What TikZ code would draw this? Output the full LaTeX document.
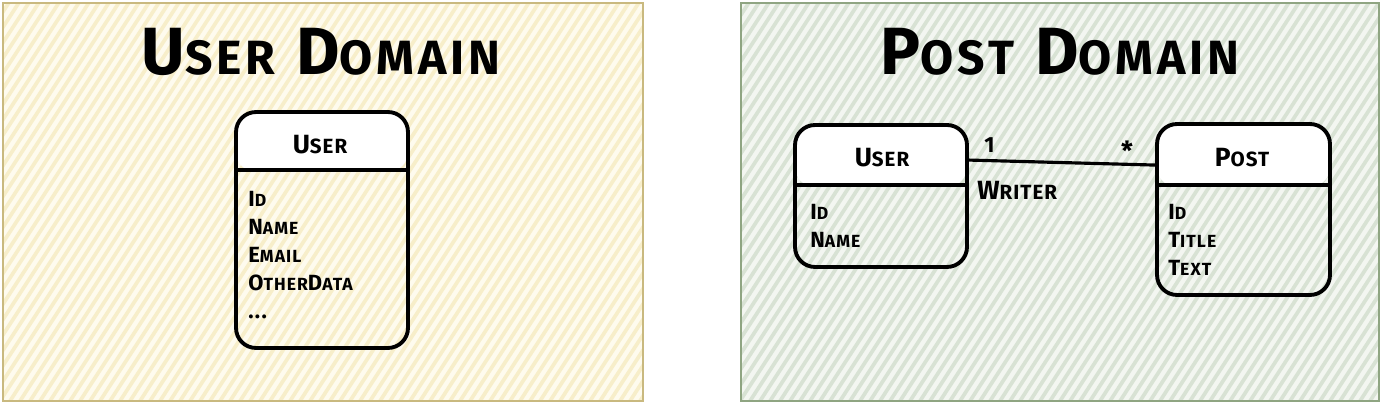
\documentclass[tikz,border=0pt]{standalone}
\usepackage{fontspec}
\setmainfont{Fira Sans}
\usepackage{graphicx}
\def\skr{0.74}
\newcommand\Sk[2]{#1\scalebox{\skr}{#2}}
\definecolor{ybg}{HTML}{FEFBEE}
\definecolor{yhatch}{HTML}{F7EECA}
\definecolor{yborder}{HTML}{C9B97F}
\definecolor{gbg}{HTML}{F3F6F1}
\definecolor{ghatch}{HTML}{D8E2D4}
\definecolor{gborder}{HTML}{8FA582}
\tikzset{
  tbl/.style={draw=black, line width=2.2pt, rounded corners=0.4cm, inner sep=0pt,
    path picture={\fill[white] (path picture bounding box.north west) rectangle ([yshift=-#1]path picture bounding box.north east);}},
  divline/.style={draw=black, line width=2.2pt},
  conn/.style={draw=black, line width=1.8pt},
  hdr/.style={font=\fontsize{15}{17}\selectfont\bfseries\addfontfeatures{LetterSpace=5}\def\skr{0.78}, inner sep=0pt},
  attr/.style={font=\fontsize{12.5}{14}\selectfont\bfseries\addfontfeatures{LetterSpace=6}\def\skr{0.8}, inner sep=0pt, anchor=base west},
  ttl/.style={font=\fontsize{38}{41}\selectfont\bfseries\addfontfeatures{LetterSpace=8}\def\skr{0.72}, inner sep=0pt},
  hatchline/.style={line width=2.1pt}
}
\begin{document}
\begin{tikzpicture}[x=0.02cm,y=-0.02cm]
\useasboundingbox (0,0) rectangle (1382,404);
% left panel
\fill[ybg] (3,3) rectangle (643,401);
\begin{scope}
  \clip (3,3) rectangle (643,401);
  \foreach \i in {-270,-260,...,650} \draw[hatchline, yhatch] (\i,401) -- ++(260,-400);
\end{scope}
\draw[yborder, line width=1.6pt] (3,3) rectangle (643,401);
% right panel
\fill[gbg] (741,3) rectangle (1379,401);
\begin{scope}
  \clip (741,3) rectangle (1379,401);
  \foreach \i in {470,480,...,1390} \draw[hatchline, ghatch] (\i,401) -- ++(260,-400);
\end{scope}
\draw[gborder, line width=1.6pt] (741,3) rectangle (1379,401);

% titles
\node[ttl] (t1) at (321,52) {\Sk{U}{SER} \Sk{D}{OMAIN}};
\node[ttl] (t2) at (1060,52) {\Sk{P}{OST} \Sk{D}{OMAIN}};

% left User table
\node[tbl=1.2cm, minimum width=3.44cm, minimum height=4.72cm] (utab) at (322,230) {};
\draw[divline] ([yshift=-1.2cm]utab.north west) -- ([yshift=-1.2cm]utab.north east);
\node[hdr] (uhdr) at (320,145) {\Sk{U}{SER}};
\node[attr] (ua1) at (248,207) {\Sk{I}{D}};
\node[attr] (ua2) at (248,235) {\Sk{N}{AME}};
\node[attr] (ua3) at (248,263) {\Sk{E}{MAIL}};
\node[attr] (ua4) at (248,291) {\Sk{O}{THER}\Sk{D}{ATA}};
\node[attr] (ua5) at (248,319) {...};

% right User table
\node[tbl=1.24cm, minimum width=3.44cm, minimum height=2.84cm] (pu) at (881,196) {};
\draw[divline] ([yshift=-1.24cm]pu.north west) -- ([yshift=-1.24cm]pu.north east);
\node[hdr] (puhdr) at (882,158) {\Sk{U}{SER}};
\node[attr] (pua1) at (810,220) {\Sk{I}{D}};
\node[attr] (pua2) at (810,248) {\Sk{N}{AME}};

% Post table
\node[tbl=1.26cm, minimum width=3.46cm, minimum height=3.42cm] (po) at (1243.5,209.5) {};
\draw[divline] ([yshift=-1.26cm]po.north west) -- ([yshift=-1.26cm]po.north east);
\node[hdr] (pohdr) at (1242,158) {\Sk{P}{OST}};
\node[attr] (poa1) at (1168,220) {\Sk{I}{D}};
\node[attr] (poa2) at (1168,248) {\Sk{T}{ITLE}};
\node[attr] (poa3) at (1168,276) {\Sk{T}{EXT}};

% association
\draw[conn] ([yshift=-0.74cm]pu.north east) -- ([yshift=-0.86cm]po.north west);
\node[attr] (m1) at (984,153) {1};
\node[hdr] (m2) at (1127,151) {*};
\node[hdr, anchor=base west] (wr) at (977,200) {\Sk{W}{RITER}};
\end{tikzpicture}
\end{document}
